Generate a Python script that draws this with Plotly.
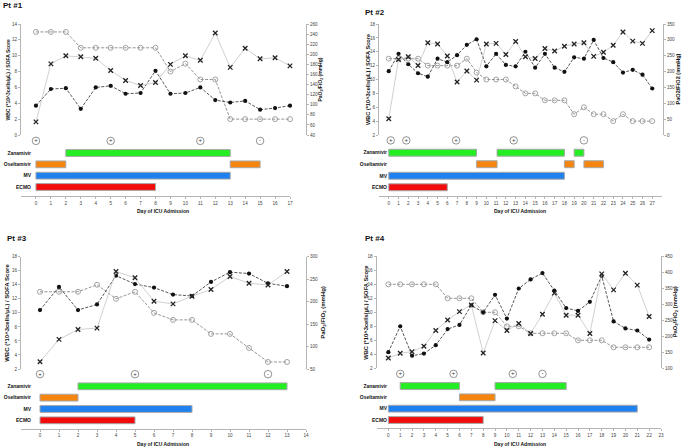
import plotly.graph_objects as go

W, H = 685, 448
FONT = "Liberation Sans, Arial, sans-serif"


def fx(x):
    return x / W


def fy(y):
    return 1 - y / H


# ---------------- data ----------------
drug_rows = ["ECMO", "MV", "Oseltamivir", "Zanamivir"]

p1_days = list(range(0, 18))
p1_wbc = [3.7, 5.8, 5.9, 3.3, 6.0, 6.2, 5.2, 5.3, 8.1, 5.2, 5.3, 6.0, 4.4, 4.1, 4.3, 3.2, 3.4, 3.7]
p1_sofa = [13, 13, 13, 11, 11, 11, 11, 11, 11, 8, 9, 7, 7, 2, 2, 2, 2, 2]
p1_pf = [66, 181, 197, 195, 192, 168, 148, 138, 144, 180, 197, 188, 242, 174, 212, 191, 193, 177]
p1_test_days = [0, 5, 11, 15]
p1_test_signs = ["+", "+", "+", "-"]
p1_zanamivir = [(2, 13)]
p1_oseltamivir = [(0, 2), (13, 15)]
p1_mv = [(0, 13)]
p1_ecmo = [(0, 8)]

p2_days = list(range(0, 28))
p2_wbc = [11.2, 13.7, 12.2, 10.9, 10.4, 13.0, 12.5, 13.5, 15.0, 15.8, 11.9, 13.7, 12.1, 11.9,
          14.0, 11.7, 13.7, 11.7, 11.1, 13.2, 13.0, 15.7, 13.1, 12.5, 11.0, 11.4, 10.7, 8.7]
p2_sofa = [13, 13, 13, 13, 12, 12, 12, 12, 13, 11, 10, 10, 10, 9, 8, 8, 7, 7, 7, 5, 6, 5, 5, 4, 5, 4, 4, 4]
p2_pf = [51, 238, 247, 219, 291, 287, 249, 167, 202, 173, 287, 289, 254, 295,
         247, 241, 273, 265, 280, 287, 291, 248, 261, 283, 325, 296, 289, 329]
p2_test_days = [0.2, 1.8, 6.9, 12.8, 20]
p2_test_signs = ["+", "+", "+", "+", "-"]
p2_zanamivir = [(0, 9), (11.1, 18), (19, 20)]
p2_oseltamivir = [(9, 11.1), (18, 19), (20, 22)]
p2_mv = [(0, 18)]
p2_ecmo = [(0, 6)]

p3_days = list(range(0, 14))
p3_wbc = [10.4, 13.7, 10.4, 11.2, 15.3, 14.1, 13.6, 12.6, 12.4, 14.4, 15.8, 15.6, 14.2, 13.8]
p3_sofa = [13, 13, 13, 14, 12, 13, 10, 9, 9, 7, 7, 5, 3, 3]
p3_pf = [66, 116, 138, 141, 267, 253, 201, 195, 212, 227, 256, 241, 237, 267]
p3_test_days = [0, 5, 12]
p3_test_signs = ["+", "+", "-"]
p3_zanamivir = [(2, 13)]
p3_oseltamivir = [(0, 2)]
p3_mv = [(0, 8)]
p3_ecmo = [(0, 5)]

p4_days = list(range(0, 23))
p4_wbc = [4.3, 8.0, 3.8, 4.1, 5.3, 7.6, 8.2, 11.0, 10.0, 12.5, 9.1, 13.4, 14.7, 15.6,
          13.1, 10.6, 10.2, 11.5, 15.2, 8.7, 7.7, 7.4, 6.1]
p4_sofa = [14, 14, 14, 14, 14, 12, 12, 12, 10, 10, 8, 8, 7, 7, 7, 7, 6, 6, 6, 5, 5, 5, 5]
p4_pf = [132, 147, 152, 169, 218, 251, 277, 298, 148, 249, 218, 240, 209, 269,
         335, 266, 266, 209, 395, 345, 397, 360, 262]
p4_test_days = [1, 5.5, 10.5, 13]
p4_test_signs = ["+", "+", "+", "-"]
p4_zanamivir = [(1, 6), (9, 15)]
p4_oseltamivir = [(6, 9)]
p4_mv = [(0, 21)]
p4_ecmo = [(0, 8)]

# ---------------- layout config (pixels) ----------------
SUB_TITLE = "PaO<sub>2</sub>/FiO<sub>2</sub> (mmHg)"
panels = [
    dict(name="Pt #1", tpos=(1, 6), days=p1_days, wbc=p1_wbc, sofa=p1_sofa, pf=p1_pf,
         tdays=p1_test_days, tsigns=p1_test_signs,
         bars=[p1_ecmo, p1_mv, p1_oseltamivir, p1_zanamivir],
         xdom=(21, 290), xmax=17, nlab=17, axis_y=196, ytop=24, ybot=135,
         lrange=(0, 14), ldtick=2, rx=306, rrange=(40, 260), rdtick=20,
         row1=187, unit=11.33, label_x=31, ltx=7, rtx=320, xt=(163, 211),
         rtitle=SUB_TITLE, lsize=5),
    dict(name="Pt #2", tpos=(363, 13), days=p2_days, wbc=p2_wbc, sofa=p2_sofa, pf=p2_pf,
         tdays=p2_test_days, tsigns=p2_test_signs,
         bars=[p2_ecmo, p2_mv, p2_oseltamivir, p2_zanamivir],
         xdom=(379, 662), xmax=28, nlab=27, axis_y=196, ytop=24, ybot=135,
         lrange=(2, 18), ldtick=2, rx=663, rrange=(0, 350), rdtick=50,
         row1=187.3, unit=11.53, label_x=387, ltx=367.5, rtx=677, xt=(520, 211),
         rtitle="PaO2/FiO2 (mmHg)", lsize=5.6),
    dict(name="Pt #3", tpos=(5, 238), days=p3_days, wbc=p3_wbc, sofa=p3_sofa, pf=p3_pf,
         tdays=p3_test_days, tsigns=p3_test_signs,
         bars=[p3_ecmo, p3_mv, p3_oseltamivir, p3_zanamivir],
         xdom=(21, 306), xmax=14, nlab=14, axis_y=428.7, ytop=256.7, ybot=369,
         lrange=(2, 18), ldtick=2, rx=306, rrange=(50, 300), rdtick=50,
         row1=420.3, unit=11.33, label_x=31, ltx=7, rtx=324, xt=(163, 444),
         rtitle=SUB_TITLE, lsize=6),
    dict(name="Pt #4", tpos=(363, 238), days=p4_days, wbc=p4_wbc, sofa=p4_sofa, pf=p4_pf,
         tdays=p4_test_days, tsigns=p4_test_signs,
         bars=[p4_ecmo, p4_mv, p4_oseltamivir, p4_zanamivir],
         xdom=(376.5, 661), xmax=23, nlab=23, axis_y=428.3, ytop=256.3, ybot=368.3,
         lrange=(2, 18), ldtick=2, rx=661, rrange=(100, 450), rdtick=50,
         row1=420, unit=11.33, label_x=387, ltx=366.5, rtx=675, xt=(520, 444),
         rtitle=SUB_TITLE, lsize=5.8),
]

BAR_COLORS = ["#F20C0C", "#1F80F0", "#F5850F", "#22EE22"]
AXIS_COL = "#B5B5B5"
TICK_FONT = dict(family=FONT, size=4.6, color="#444")

fig = go.Figure()
layout = dict(width=W, height=H, margin=dict(l=0, r=0, t=0, b=0),
              paper_bgcolor="white", plot_bgcolor="rgba(0,0,0,0)",
              showlegend=False, barmode="overlay", font=dict(family=FONT),
              annotations=[])


def nm(prefix, n):
    return prefix if n == 1 else f"{prefix}{n}"


for i, P in enumerate(panels):
    xk = i + 1
    yl, yr, yg = 3 * i + 1, 3 * i + 2, 3 * i + 3
    xref = nm("x", xk)
    ylref, yrref, ygref = nm("y", yl), nm("y", yr), nm("y", yg)

    layout[nm("xaxis", xk)] = dict(
        domain=[fx(P["xdom"][0]), fx(P["xdom"][1])], range=[-1, P["xmax"]],
        anchor="free", position=fy(P["axis_y"]),
        tickvals=list(range(0, P["nlab"] + 1)), ticks="outside", ticklen=2,
        tickcolor=AXIS_COL, tickwidth=0.8, showline=True, linecolor=AXIS_COL,
        linewidth=1, showgrid=False, zeroline=False, tickfont=TICK_FONT,
        automargin=False)
    layout[nm("yaxis", yl)] = dict(
        domain=[fy(P["ybot"]), fy(P["ytop"])], range=list(P["lrange"]),
        anchor=xref, side="left", dtick=P["ldtick"], ticks="outside", ticklen=2,
        tickcolor=AXIS_COL, tickwidth=0.8, showline=True, linecolor=AXIS_COL,
        linewidth=1, showgrid=False, zeroline=False, tickfont=TICK_FONT,
        automargin=False)
    layout[nm("yaxis", yr)] = dict(
        overlaying=ylref, side="right", anchor="free", position=fx(P["rx"]),
        range=list(P["rrange"]), dtick=P["rdtick"], ticks="outside", ticklen=2,
        tickcolor=AXIS_COL, tickwidth=0.8, showline=True, linecolor=AXIS_COL,
        linewidth=1, showgrid=False, zeroline=False, tickfont=TICK_FONT,
        automargin=False)
    g_lo, g_hi = 0.4, 5.6
    gb = P["row1"] + (1 - g_lo) * P["unit"]
    gt = P["row1"] - (g_hi - 1) * P["unit"]
    layout[nm("yaxis", yg)] = dict(
        domain=[fy(gb), fy(gt)], range=[g_lo, g_hi], anchor="free",
        position=fx(P["label_x"]), tickvals=[1, 2, 3, 4],
        ticktext=[f"<b>{r}</b>" for r in drug_rows], ticks="", showline=False,
        showgrid=False, zeroline=False,
        tickfont=dict(family=FONT, size=5, color="#111"), automargin=False)

    # gantt bars
    for r, (segs, col) in enumerate(zip(P["bars"], BAR_COLORS)):
        fig.add_trace(go.Bar(
            y=[r + 1] * len(segs), x=[e - s for s, e in segs], base=[s for s, e in segs],
            orientation="h", width=0.6, xaxis=xref, yaxis=ygref,
            marker=dict(color=col, line=dict(color="#A8A8A8", width=1)),
            hoverinfo="skip"))
    # test results
    fig.add_trace(go.Scatter(
        x=P["tdays"], y=[5.07] * len(P["tdays"]), mode="markers+text",
        text=P["tsigns"], textposition="middle center",
        textfont=dict(family=FONT, size=6, color="#333"),
        marker=dict(symbol="circle-open", size=7.5, color="#777", line=dict(width=0.8)),
        xaxis=xref, yaxis=ygref, cliponaxis=False))

    # PaO2/FiO2
    fig.add_trace(go.Scatter(
        x=P["days"], y=P["pf"], mode="lines+markers", xaxis=xref, yaxis=yrref,
        line=dict(color="#C4C4C4", width=0.8),
        marker=dict(symbol="x-thin-open", size=4.5, color="#222", line=dict(width=1.3, color="#222")),
        cliponaxis=False))
    # SOFA
    fig.add_trace(go.Scatter(
        x=P["days"], y=P["sofa"], mode="lines+markers", xaxis=xref, yaxis=ylref,
        line=dict(color="#8A8A8A", width=0.9, dash="3px,1.5px"),
        marker=dict(symbol="circle-open", size=5, color="#999", line=dict(width=0.9)),
        cliponaxis=False))
    # WBC
    fig.add_trace(go.Scatter(
        x=P["days"], y=P["wbc"], mode="lines+markers", xaxis=xref, yaxis=ylref,
        line=dict(color="#444", width=0.9, dash="3px,1.5px"),
        marker=dict(symbol="circle", size=4.2, color="#111"),
        cliponaxis=False))

    ann = layout["annotations"]
    ann.append(dict(text=f"<b>{P['name']}</b>", x=fx(P["tpos"][0]), y=fy(P["tpos"][1]),
                    xref="paper", yref="paper", xanchor="left", yanchor="middle",
                    showarrow=False, font=dict(family=FONT, size=8, color="#111")))
    ymid = (P["ytop"] + P["ybot"]) / 2
    ann.append(dict(text="<b>WBC (*10^3cells/μL) / SOFA Score</b>", x=fx(P["ltx"]), y=fy(ymid),
                    xref="paper", yref="paper", xanchor="center", yanchor="middle",
                    textangle=-90, showarrow=False,
                    font=dict(family=FONT, size=P["lsize"], color="#111")))
    ann.append(dict(text=f"<b>{P['rtitle']}</b>", x=fx(P["rtx"]), y=fy(ymid),
                    xref="paper", yref="paper", xanchor="center", yanchor="middle",
                    textangle=-90, showarrow=False,
                    font=dict(family=FONT, size=P["lsize"], color="#111")))
    ann.append(dict(text="<b>Day of ICU Admission</b>", x=fx(P["xt"][0]), y=fy(P["xt"][1]),
                    xref="paper", yref="paper", xanchor="center", yanchor="middle",
                    showarrow=False, font=dict(family=FONT, size=5, color="#111")))

fig.update_layout(**layout)
fig.write_html("out.html", config={"displayModeBar": False},
               post_script="document.body.style.margin='0px';document.body.style.padding='0px';")
